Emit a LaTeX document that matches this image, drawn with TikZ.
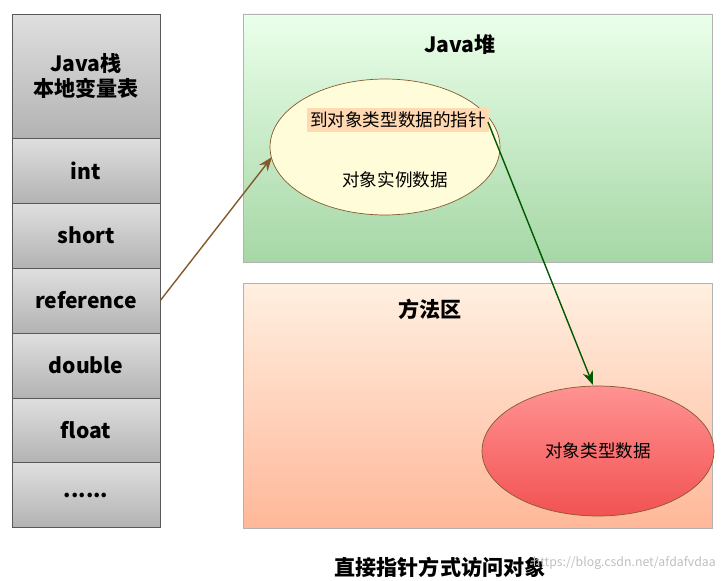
\documentclass[tikz,border=0pt]{standalone}
\usepackage{fontspec}
\setmainfont{Noto Sans CJK SC}
\usetikzlibrary{shapes.geometric,arrows.meta}
\begin{document}
\begin{tikzpicture}[x=0.02cm,y=-0.02cm,
  cell/.style={draw=gray!70!black,top color=gray!25,bottom color=gray!60,minimum width=2.96cm,minimum height=1.3cm,inner sep=0pt,font=\bfseries\large},
  lbl/.style={font=\normalsize}]
\useasboundingbox (0,0) rectangle (724,581);
\node[cell,minimum height=2.48cm,align=center] (h) at (86,76) {Java栈\\本地变量表};
\node[cell] (c1) at (86,170.5) {int};
\node[cell] (c2) at (86,235.5) {short};
\node[cell] (c3) at (86,300.5) {reference};
\node[cell] (c4) at (86,365.5) {double};
\node[cell] (c5) at (86,430.5) {float};
\node[cell] (c6) at (86,495) {......};
\path[draw=gray!60,top color=green!8!white,bottom color=green!55!black!35] (243,14) rectangle (712,262);
\path[draw=gray!60,top color=orange!12!white,bottom color=orange!60!red!40] (243,283) rectangle (712,528);
\node[font=\bfseries\large] (jh) at (460,45) {Java堆};
\node[font=\bfseries\large] (ff) at (430,309) {方法区};
\node[ellipse,draw=brown!70!black,fill=yellow!15,minimum width=4.6cm,minimum height=2.72cm] (e1) at (385,147) {};
\node[fill=orange!30,inner sep=2pt,lbl] (p) at (398,120) {到对象类型数据的指针};
\node[lbl] (d) at (395,180) {对象实例数据};
\node[ellipse,draw=brown!70!black,top color=red!30!pink!90,bottom color=red!55!pink!95!black,minimum width=4.64cm,minimum height=2.6cm,lbl] (e2) at (598,451) {对象类型数据};
\coordinate (a1) at (272,157);
\coordinate (b1) at (488,122);
\coordinate (b2) at (593,385);
\draw[-{Stealth[length=8pt]},thick,draw=brown!70!black] (c3.east) -- (a1);
\draw[-{Stealth[length=8pt]},thick,draw=green!35!black] (b1) -- (b2);
\node[font=\bfseries\large] (cap) at (440,567) {直接指针方式访问对象};
\node[font=\scriptsize,text=gray!50,anchor=east] (wm) at (722,563) {https://blog.csdn.net/afdafvdaa};
\end{tikzpicture}
\end{document}
